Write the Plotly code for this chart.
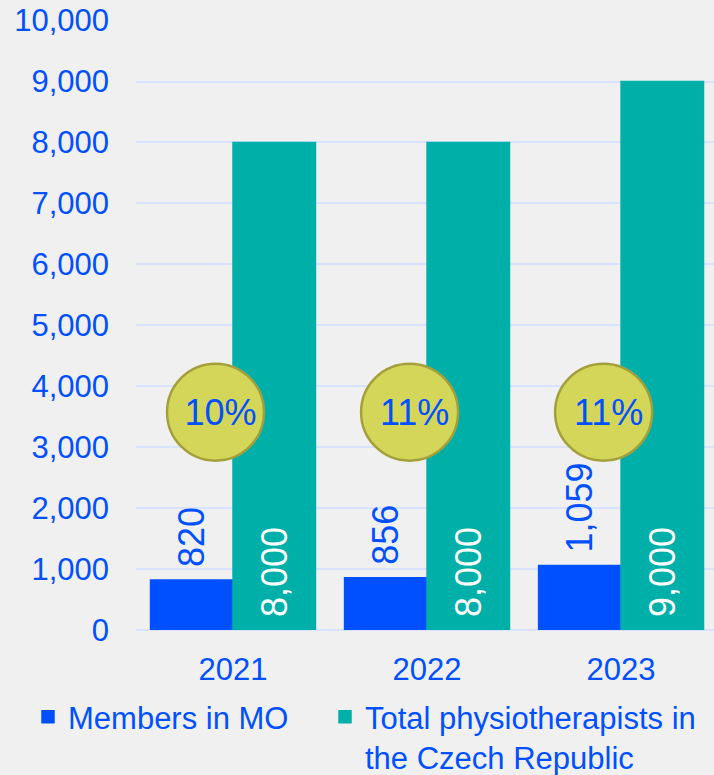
"""Members in MO vs total physiotherapists in the Czech Republic."""

import plotly.graph_objects as go

# Data
years = ["2021", "2022", "2023"]
members_mo = [820, 856, 1059]
total_physio = [8000, 8000, 9000]
share_labels = ["10%", "11%", "11%"]

# Styling
BLUE = "#0050ff"
TEAL = "#00b0a8"
CIRCLE_FILL = "#d4d65a"
CIRCLE_EDGE = "#a3a03c"
GRID = "#d9e3ff"
BG = "#f0f0f0"
FONT = "Liberation Sans, Arial, sans-serif"
CIRCLE_Y = 3575
CIRCLE_DX = -0.09
TEXT_NUDGE_X, TEXT_NUDGE_Y = 0.026, -65  # % text sits a touch low-right
PAD = "\u00a0"  # small lift for the rotated bar labels

# plot area in pixels (used to place the legend in paper coords)
PLOT_L, PLOT_T, PLOT_B = 136, 20, 145
W, H = 714, 775
plot_w = W - PLOT_L
plot_h = H - PLOT_T - PLOT_B

x = list(range(len(years)))

fig = go.Figure()

fig.add_trace(
    go.Bar(
        x=x,
        y=members_mo,
        name="Members in MO",
        legendwidth=252,
        marker=dict(color=BLUE, line=dict(color=BLUE, width=1.5)),
        text=[f"{PAD}{v:,}" for v in members_mo],
        textposition="outside",
        textangle=-90,
        textfont=dict(size=36, color=BLUE, family=FONT),
        constraintext="none",
        cliponaxis=False,
        hoverinfo="skip",
    )
)

fig.add_trace(
    go.Bar(
        x=x,
        y=total_physio,
        name="Total physiotherapists in<br>the Czech Republic",
        legendwidth=350,
        marker=dict(color=TEAL, line=dict(color=TEAL, width=1.5)),
        text=[f"{PAD}{v:,}" for v in total_physio],
        textposition="inside",
        insidetextanchor="start",
        textangle=-90,
        textfont=dict(size=36, color="white", family=FONT),
        constraintext="none",
        hoverinfo="skip",
    )
)

# Share circles
fig.add_trace(
    go.Scatter(
        x=[i + CIRCLE_DX for i in x],
        y=[CIRCLE_Y] * len(x),
        mode="markers",
        marker=dict(
            size=97,
            color=CIRCLE_FILL,
            line=dict(color=CIRCLE_EDGE, width=2.5),
        ),
        showlegend=False,
        hoverinfo="skip",
        cliponaxis=False,
    )
)
fig.add_trace(
    go.Scatter(
        x=[i + CIRCLE_DX + TEXT_NUDGE_X for i in x],
        y=[CIRCLE_Y + TEXT_NUDGE_Y] * len(x),
        mode="text",
        text=share_labels,
        textposition="middle center",
        textfont=dict(size=36, color=BLUE, family=FONT),
        showlegend=False,
        hoverinfo="skip",
        cliponaxis=False,
    )
)

fig.update_layout(
    width=W,
    height=H,
    barmode="group",
    bargap=0.15,
    bargroupgap=0,
    paper_bgcolor=BG,
    plot_bgcolor=BG,
    margin=dict(l=PLOT_L, r=0, t=PLOT_T, b=PLOT_B, autoexpand=False),
    font=dict(family=FONT, color=BLUE, size=31),
    showlegend=True,
    legend=dict(
        orientation="h",
        x=(28 - PLOT_L) / plot_w,
        xanchor="left",
        y=-(690 - (PLOT_T + plot_h)) / plot_h,
        yanchor="top",
        valign="top",
        font=dict(size=31, color=BLUE, family=FONT),
        traceorder="normal",
        itemwidth=30,
        tracegroupgap=0,
        bgcolor="rgba(0,0,0,0)",
    ),
    xaxis=dict(
        tickmode="array",
        tickvals=x,
        ticktext=years,
        range=[-0.5, 2.479],
        showgrid=False,
        zeroline=False,
        showline=False,
        ticks="",
        ticklabelstandoff=18,
        tickfont=dict(size=31, color=BLUE, family=FONT),
    ),
    yaxis=dict(
        range=[0, 10010],
        dtick=1000,
        tickformat=",",
        showgrid=True,
        gridcolor=GRID,
        gridwidth=2,
        zeroline=True,
        zerolinecolor=GRID,
        zerolinewidth=2,
        showline=False,
        ticks="",
        ticklabelstandoff=26,
        tickfont=dict(size=31, color=BLUE, family=FONT),
    ),
)

fig.write_html(
    "out.html",
    config={"displayModeBar": False},
    post_script="document.body.style.margin='0';",
)
